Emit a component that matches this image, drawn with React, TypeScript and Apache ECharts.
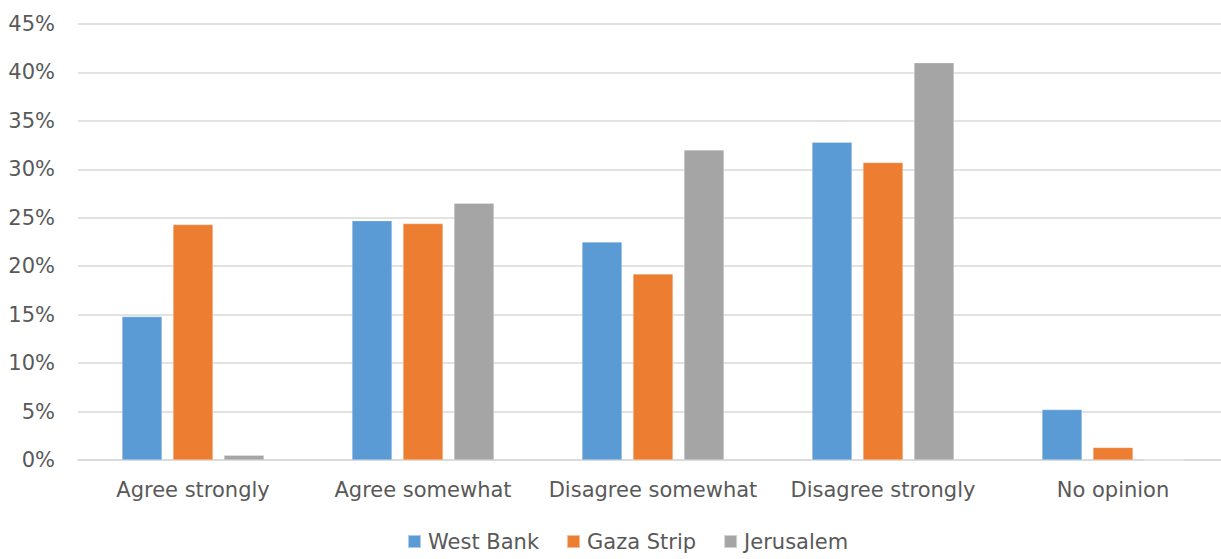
import React, { useEffect, useRef } from "react";
import * as echarts from "echarts";

const categories = ["Agree strongly", "Agree somewhat", "Disagree somewhat", "Disagree strongly", "No opinion"];
const westBank = [14.8, 24.7, 22.5, 32.8, 5.2];
const gazaStrip = [24.3, 24.4, 19.2, 30.7, 1.3];
const jerusalem = [0.5, 26.5, 32.0, 41.0, 0];
const seriesNames = ["West Bank", "Gaza Strip", "Jerusalem"];
const colors = ["#5B9BD5", "#ED7D31", "#A5A5A5"];

const FONT = "'DejaVu Sans', 'Open Sans', sans-serif";

export default function App() {
  const ref = useRef<HTMLDivElement>(null);
  useEffect(() => {
    if (!ref.current) return;
    const chart = echarts.init(ref.current, undefined, { renderer: "svg" });
    const data = [westBank, gazaStrip, jerusalem];
    chart.setOption({
      animation: false,
      backgroundColor: "#ffffff",
      textStyle: { fontFamily: FONT },
      grid: { left: 78, right: 4, top: 24, bottom: 99 },
      legend: {
        bottom: 2,
        left: 402,
        itemWidth: 13,
        itemHeight: 13,
        itemGap: 27,
        icon: "rect",
        textStyle: { fontSize: 21, color: "#595959", fontFamily: FONT, padding: [0, 0, 0, 2] },
        data: seriesNames,
      },
      xAxis: {
        type: "category",
        data: categories,
        axisLine: { show: true, lineStyle: { color: "#D9D9D9", width: 1.5 } },
        axisTick: { show: false },
        axisLabel: { fontSize: 21, color: "#595959", margin: 19, fontFamily: FONT, interval: 0 },
      },
      yAxis: {
        type: "value",
        min: 0,
        max: 45,
        interval: 5,
        axisLine: { show: false },
        axisTick: { show: false },
        axisLabel: {
          fontSize: 21,
          color: "#595959",
          margin: 23,
          fontFamily: FONT,
          formatter: (v: number) => `${v}%`,
        },
        splitLine: { lineStyle: { color: "#D9D9D9", width: 1.5 } },
      },
      series: seriesNames.map((name, i) => ({
        name,
        type: "bar",
        data: data[i],
        barWidth: 40,
        barGap: "27.5%",
        itemStyle: { color: colors[i], borderColor: "rgba(255,255,255,0.5)", borderWidth: 0.5 },
      })),
    });
    return () => chart.dispose();
  }, []);
  return (
    <div style={{ position: "fixed", left: 0, top: 0, width: 1221, height: 559, overflow: "hidden", background: "#fff" }}>
      <div ref={ref} style={{ width: 1232, height: 559 }} />
    </div>
  );
}
